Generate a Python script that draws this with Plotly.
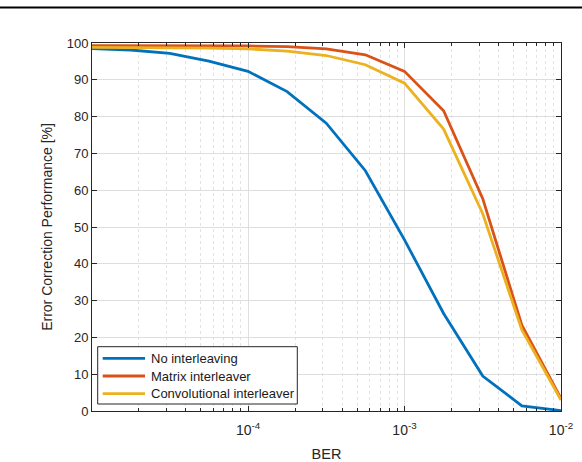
import numpy as np
import plotly.graph_objects as go

# Data
ber = [1e-5, 1.778e-5, 3.162e-5, 5.623e-5, 1e-4, 1.778e-4, 3.162e-4, 5.623e-4,
       1e-3, 1.778e-3, 3.162e-3, 5.623e-3, 1e-2]
no_interleaving = [98.5, 98.1, 97.2, 95.1, 92.3, 86.8, 78.2, 65.3, 46.5, 26.5, 9.5, 1.4, 0.1]
matrix_interleaver = [99.3, 99.3, 99.3, 99.3, 99.2, 99.0, 98.4, 96.8, 92.3, 81.6, 57.7, 23.3, 3.4]
conv_interleaver = [98.8, 98.8, 98.7, 98.6, 98.4, 97.8, 96.6, 94.1, 89.1, 76.6, 53.6, 22.0, 3.0]

x_tickvals = [1e-4, 1e-3, 1e-2]
x_ticktext = ["10<sup>-4</sup>", "10<sup>-3</sup>", "10<sup>-2</sup>"]

names = ["No interleaving", "Matrix interleaver", "Convolutional interleaver"]
colors = ["#0072BD", "#D95319", "#EDB120"]

fig = go.Figure()
for name, ys, c in zip(names, [no_interleaving, matrix_interleaver, conv_interleaver], colors):
    fig.add_trace(go.Scatter(x=ber, y=ys, mode="lines", name=name, showlegend=False,
                             line=dict(color=c, width=2.8)))

axcol = "#262626"
gridcol = "#dedede"
FONT = "Liberation Sans, Arial, sans-serif"
font = dict(family=FONT, size=13, color=axcol)

L, R, T, B = 92, 21, 43, 51
W, H = 582, 462
pw, ph = W - L - R, H - T - B


def px(xpix):
    return (xpix - L) / pw


def py(ypix):
    return (H - B - ypix) / ph


fig.update_layout(
    width=W, height=H,
    margin=dict(l=L, r=R, t=T, b=B, pad=0, autoexpand=False),
    paper_bgcolor="white", plot_bgcolor="white",
    font=font,
    showlegend=False,
)

fig.update_xaxes(
    type="log", range=[-4.997, -2], tickmode="array",
    tickvals=x_tickvals, ticktext=x_ticktext,
    automargin=False,
    showline=True, linecolor=axcol, linewidth=1, mirror="allticks",
    ticks="inside", ticklen=5, tickcolor=axcol,
    showgrid=True, gridcolor=gridcol, gridwidth=1,
    zeroline=False,
    ticklabelstandoff=6,
    minor=dict(dtick="D1", ticks="inside", ticklen=3, tickcolor=axcol, showgrid=True,
               gridcolor="#e2e2e2", griddash="dot", gridwidth=1),
    title=dict(text="BER", font=dict(size=14.5, color=axcol), standoff=12),
    tickfont=dict(size=14, color=axcol),
)
fig.update_yaxes(
    range=[0, 100], dtick=10, automargin=False,
    showline=True, linecolor=axcol, linewidth=1, mirror="allticks",
    ticks="inside", ticklen=5, tickcolor=axcol,
    showgrid=True, gridcolor=gridcol, gridwidth=1,
    zeroline=False,
    title=dict(text="Error Correction Performance [%]", font=dict(size=14, color=axcol), standoff=10),
    tickfont=dict(size=13, color=axcol),
)

# top rule line of the page
fig.add_shape(type="line", xref="paper", yref="paper",
              x0=-L / pw, x1=1 + R / pw,
              y0=py(7.5), y1=py(7.5),
              line=dict(color="black", width=2))

# legend box (drawn manually to match the reference size)
fig.add_shape(type="rect", xref="paper", yref="paper",
              x0=px(97.7), x1=px(297.3), y0=py(404), y1=py(346.7),
              line=dict(color=axcol, width=1), fillcolor="white", layer="above")
row_y = [358.3, 376.0, 393.7]
for name, c, ry in zip(names, colors, row_y):
    fig.add_shape(type="line", xref="paper", yref="paper",
                  x0=px(102.7), x1=px(145), y0=py(ry), y1=py(ry),
                  line=dict(color=c, width=2.8), layer="above")
    fig.add_annotation(xref="paper", yref="paper", x=px(148.5), y=py(ry),
                       text=name, showarrow=False, xanchor="left", yanchor="middle",
                       font=dict(family=FONT, size=13, color="#1a1a1a"))

fig.write_html("out.html")
